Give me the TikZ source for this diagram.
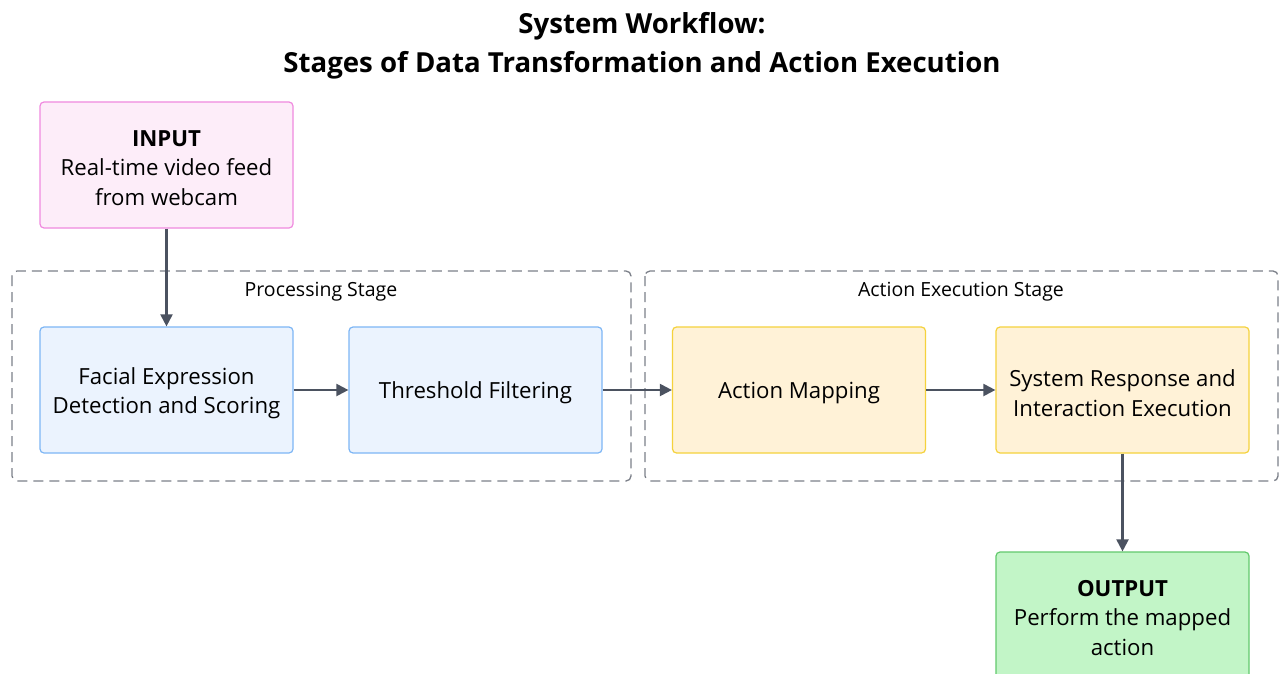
\documentclass[tikz,border=0pt]{standalone}
\usepackage{fontspec}
\setmainfont{Open Sans}
\usetikzlibrary{arrows.meta}
\definecolor{inFill}{HTML}{FDEDF9}
\definecolor{inLine}{HTML}{F08ADF}
\definecolor{bFill}{HTML}{EBF3FE}
\definecolor{bLine}{HTML}{7DB6F5}
\definecolor{yFill}{HTML}{FFF2D7}
\definecolor{yLine}{HTML}{F5D23C}
\definecolor{gFill}{HTML}{C2F5C7}
\definecolor{gLine}{HTML}{62C96D}
\definecolor{arrowGray}{HTML}{4B5260}
\definecolor{dashGray}{HTML}{7C8089}
\tikzset{
  boxtext/.style={align=center, font=\fontsize{22.2}{29.5}\selectfont, inner sep=0pt, yshift=-3pt},
  txt/.style={label={[boxtext]center:{#1}}},
  box/.style={draw, line width=1.2pt, rounded corners=4pt, minimum width=253pt,
    minimum height=126pt, inner sep=0pt},
  inbox/.style={box, fill=inFill, draw=inLine},
  procbox/.style={box, fill=bFill, draw=bLine},
  actbox/.style={box, fill=yFill, draw=yLine},
  outbox/.style={box, fill=gFill, draw=gLine},
  stagebox/.style={draw=dashGray, line width=1.3pt, dash pattern=on 10pt off 6pt, rounded corners=5pt},
  stagelabel/.style={font=\fontsize{19.5}{22}\selectfont, text=black},
  flow/.style={draw=arrowGray, line width=2.1pt, -{Triangle[length=12pt,width=12pt]}},
  title/.style={font=\bfseries\fontsize{27.6}{38.5}\selectfont, align=center}
}
\begin{document}
\begin{tikzpicture}[x=1pt,y=-1pt]
\useasboundingbox (0,0) rectangle (1284,674);
\fill[white] (0,0) rectangle (1284,674);

% title
\node[title] (title) at (642,46) {System Workflow:\\Stages of Data Transformation and Action Execution};

% stage frames
\draw[stagebox] (12,271) rectangle (631,481);
\node[stagelabel] (procLabel) at (321,292) {Processing Stage};
\draw[stagebox] (645,271) rectangle (1278,481);
\node[stagelabel] (actLabel) at (961,292) {Action Execution Stage};

% boxes
\node[inbox, txt={\textbf{INPUT}\\Real-time video feed\\from webcam}] (input) at (166.5,165) {};
\node[procbox, txt={Facial Expression\\Detection and Scoring}] (facial) at (166.5,390) {};
\node[procbox, txt={Threshold Filtering}] (thresh) at (475.5,390) {};
\node[actbox, txt={Action Mapping}] (mapping) at (799,390) {};
\node[actbox, txt={System Response and\\Interaction Execution}] (response) at (1122.5,390) {};
\node[outbox, txt={\textbf{OUTPUT}\\Perform the mapped\\action}] (output) at (1122.5,615) {};

% connectors
\draw[flow] (input) -- (facial);
\draw[flow] (facial) -- (thresh);
\draw[flow] (thresh) -- (mapping);
\draw[flow] (mapping) -- (response);
\draw[flow] (response) -- (output);
\end{tikzpicture}
\end{document}
